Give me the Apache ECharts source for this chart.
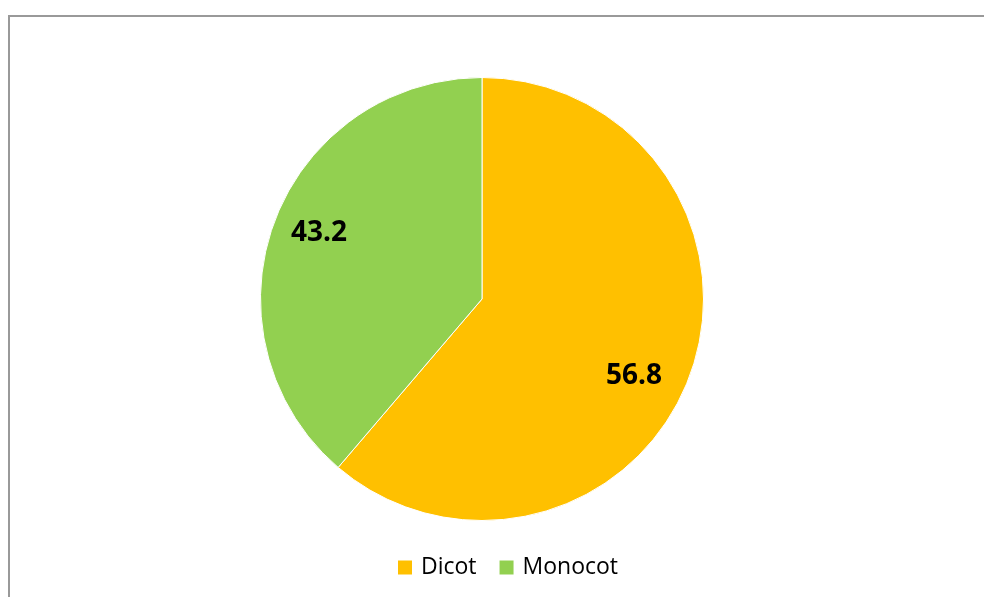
<!DOCTYPE html>
<html>
<head>
<meta charset="utf-8">
<script src="https://cdn.jsdelivr.net/npm/echarts@6/dist/echarts.min.js"></script>
<style>
  html, body { margin: 0; padding: 0; background: #fff; }
  #frame { position: absolute; left: 8px; top: 15px; width: 1100px; height: 700px;
           border-left: 2px solid #999; border-top: 2px solid #999; box-sizing: border-box; }
  #chart { position: absolute; left: 0; top: 0; width: 984px; height: 597px; }
</style>
</head>
<body>
<div id="frame"></div>
<div id="chart"></div>
<script>
// Categories, slice shares and the printed value labels
const categories = ['Dicot', 'Monocot'];
const sliceShares = [61.25, 38.75];
const valueLabels = ['56.8', '43.2'];
const colors = ['#FFC000', '#92D050'];
// small per-label nudges to mimic the original "best fit" placement (pixels)
const labelNudges = [[-13, 16], [2, -5]];

const chart = echarts.init(document.getElementById('chart'));
const R = 221.5;
const pieData = categories.map((c, i) => ({ name: c, value: sliceShares[i] }));

chart.setOption({
  animation: false,
  color: colors,
  legend: {
    bottom: 13,
    left: 391,
    icon: 'rect',
    itemWidth: 16,
    itemHeight: 16,
    itemGap: 21,
    textStyle: { fontFamily: 'Open Sans', fontSize: 23, color: '#000', padding: [0, 0, 0, 3] },
    data: categories
  },
  series: [
    {
      type: 'pie',
      center: [482, 299],
      radius: [0, R],
      startAngle: 90,
      clockwise: true,
      silent: true,
      label: { show: false },
      labelLine: { show: false },
      itemStyle: { borderColor: '#fff', borderWidth: 1 },
      data: pieData
    },
    {
      type: 'pie',
      center: [482, 299],
      radius: [R * 0.56, R],
      startAngle: 90,
      clockwise: true,
      silent: true,
      legendHoverLink: false,
      itemStyle: { color: 'rgba(0,0,0,0)' },
      label: {
        show: true,
        position: 'inside',
        formatter: p => valueLabels[p.dataIndex],
        fontFamily: 'Open Sans',
        fontWeight: 'bold',
        fontSize: 28,
        color: '#000'
      },
      labelLayout: p => ({ dx: labelNudges[p.dataIndex][0], dy: labelNudges[p.dataIndex][1] }),
      labelLine: { show: false },
      data: pieData.map(d => ({ name: d.name + ' ', value: d.value }))
    }
  ]
});
</script>
</body>
</html>
